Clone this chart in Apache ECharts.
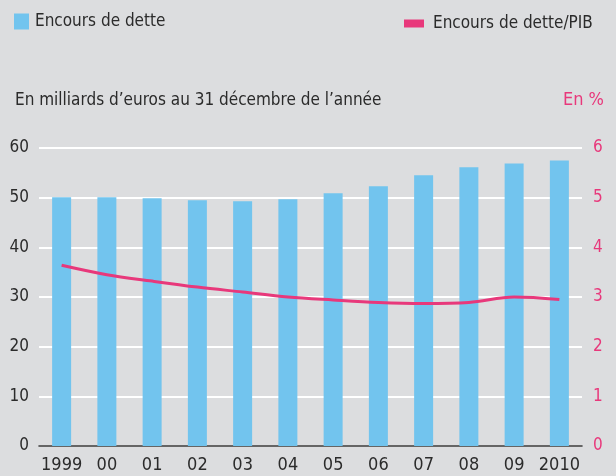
<!DOCTYPE html>
<html>
<head>
    <meta charset="UTF-8"/>
    <title>Encours de dette</title>
    <style>
        html, body{
            margin: 0;
            background: #dcdddf;
        }
    </style>
    <script src="https://cdn.jsdelivr.net/npm/echarts@6/dist/echarts.min.js"></script>
</head>
<body>
<div id="container" style="width: 616px;height: 476px;"></div>

<script>
  var years = ['1999', '00', '01', '02', '03', '04', '05', '06', '07', '08', '09', '2010'];
  // milliards d'euros
  var encours = [50.1, 50.1, 49.9, 49.5, 49.3, 49.7, 50.9, 52.3, 54.5, 56.1, 56.9, 57.5];
  // en % du PIB
  var ratioPib = [3.64, 3.45, 3.32, 3.2, 3.1, 3.0, 2.94, 2.89, 2.87, 2.89, 3.0, 2.95];
  var leftTicks = [0, 60, 10];
  var rightTicks = [0, 6, 1];

  var font = '"Liberation Sans Narrow", "DejaVu Sans Condensed", sans-serif';
  var pink = '#e8387b';
  var blue = '#72c4ee';
  var dark = '#2b2b2b';

  var myChart = echarts.init(document.getElementById('container'));
  var option = {
      backgroundColor: '#dcdddf',
      animation: false,
      textStyle: { fontFamily: font },
      title: [
          {
              text: 'En milliards d\u2019euros au 31 d\u00e9cembre de l\u2019ann\u00e9e',
              left: 10, top: 87,
              textStyle: { fontFamily: font, fontSize: 17, fontWeight: 'normal', color: dark }
          },
          {
              text: 'En %',
              right: 7, top: 86,
              textStyle: { fontFamily: font, fontSize: 18, fontWeight: 'normal', color: pink }
          }
      ],
      legend: [
          {
              data: ['Encours de dette'],
              left: 9, top: 8,
              icon: 'rect', itemWidth: 15, itemHeight: 16,
              textStyle: { fontFamily: font, fontSize: 17, color: dark, padding: [0, 0, 0, 1] }
          },
          {
              data: ['Encours de dette/PIB'],
              left: 399, top: 10,
              icon: 'rect', itemWidth: 20, itemHeight: 8,
              textStyle: { fontFamily: font, fontSize: 17, color: dark, padding: [0, 0, 0, 4] }
          }
      ],
      grid: { left: 39, right: 34, top: 148, bottom: 30 },
      xAxis: {
          type: 'category',
          data: years,
          axisLine: { lineStyle: { color: '#333', width: 1.5 } },
          axisTick: { inside: true, length: 9, lineStyle: { color: '#333' } },
          axisLabel: { interval: 0, fontFamily: font, fontSize: 18, color: dark, margin: 10 }
      },
      yAxis: [
          {
              type: 'value',
              min: leftTicks[0], max: leftTicks[1], interval: leftTicks[2],
              axisLine: { show: false },
              axisTick: { show: false },
              splitLine: { lineStyle: { color: '#ffffff', width: 2 } },
              axisLabel: { fontFamily: font, fontSize: 17, color: dark, margin: 10 }
          },
          {
              type: 'value',
              min: rightTicks[0], max: rightTicks[1], interval: rightTicks[2],
              axisLine: { show: false },
              axisTick: { show: false },
              splitLine: { show: false },
              axisLabel: { fontFamily: font, fontSize: 17, color: pink, margin: 11 }
          }
      ],
      series: [
          {
              name: 'Encours de dette',
              type: 'bar',
              data: encours,
              barWidth: 19,
              itemStyle: { color: blue }
          },
          {
              name: 'Encours de dette/PIB',
              type: 'line',
              yAxisIndex: 1,
              data: ratioPib,
              smooth: 0.35,
              symbol: 'none',
              lineStyle: { color: pink, width: 3 },
              itemStyle: { color: pink }
          }
      ]
  };
  myChart.setOption(option);
</script>

</body>
</html>
